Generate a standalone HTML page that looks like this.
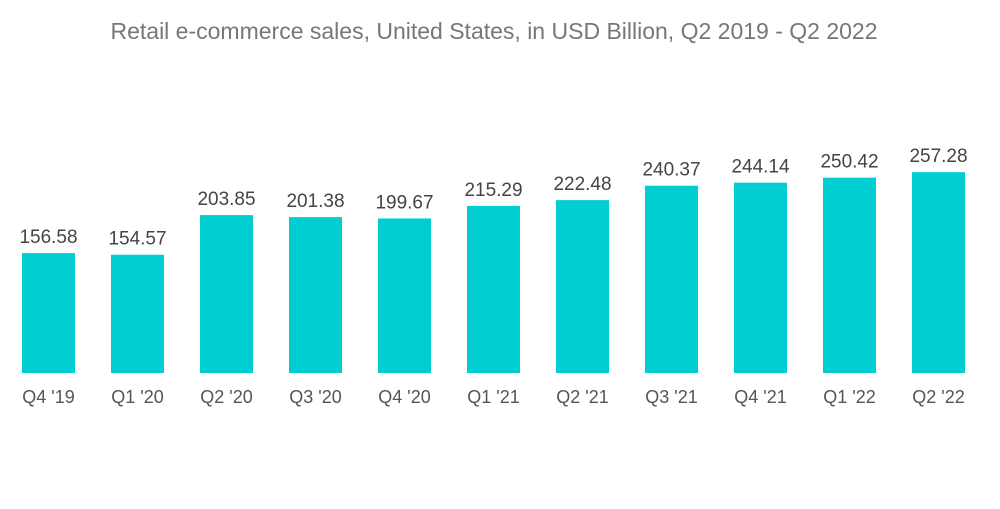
<!DOCTYPE html>
<html><head><meta charset="utf-8"><style>
body{margin:0;background:#fff;width:1000px;height:504px;overflow:hidden;font-family:"Liberation Sans",sans-serif}
</style></head><body>
<svg width="1000" height="504">
<text x="494" y="39" text-anchor="middle" font-size="23" fill="#777">Retail e-commerce sales, United States, in USD Billion, Q2 2019 - Q2 2022</text>
<g id="bars"></g>
</svg>
<script>
const categories=["Q4 '19","Q1 '20","Q2 '20","Q3 '20","Q4 '20","Q1 '21","Q2 '21","Q3 '21","Q4 '21","Q1 '22","Q2 '22"];
const values=[156.58,154.57,203.85,201.38,199.67,215.29,222.48,240.37,244.14,250.42,257.28];
const ns="http://www.w3.org/2000/svg";
const g=document.getElementById('bars');
const x=i=>22+i*89, bw=53;
const y=v=>379-0.804*v, base=373;
categories.forEach((c,i)=>{
  const r=document.createElementNS(ns,'rect');
  
  
  r.setAttribute('x',x(i));r.setAttribute('y',y(values[i]));
  r.setAttribute('width',bw);r.setAttribute('height',base-y(values[i]));
  r.setAttribute('fill','#00ced1');g.appendChild(r);
  const t=document.createElementNS(ns,'text');
  
  
  t.setAttribute('x',x(i)+bw/2);t.setAttribute('y',y(values[i])-10);
  t.setAttribute('text-anchor','middle');t.setAttribute('font-size','19');t.setAttribute('fill','#444');
  t.textContent=values[i].toFixed(2);g.appendChild(t);
  const l=document.createElementNS(ns,'text');
  
  
  l.setAttribute('x',x(i)+bw/2);l.setAttribute('y',403);
  l.setAttribute('text-anchor','middle');l.setAttribute('font-size','18');l.setAttribute('fill','#555');
  l.textContent=c;g.appendChild(l);
});
</script>
</body></html>
